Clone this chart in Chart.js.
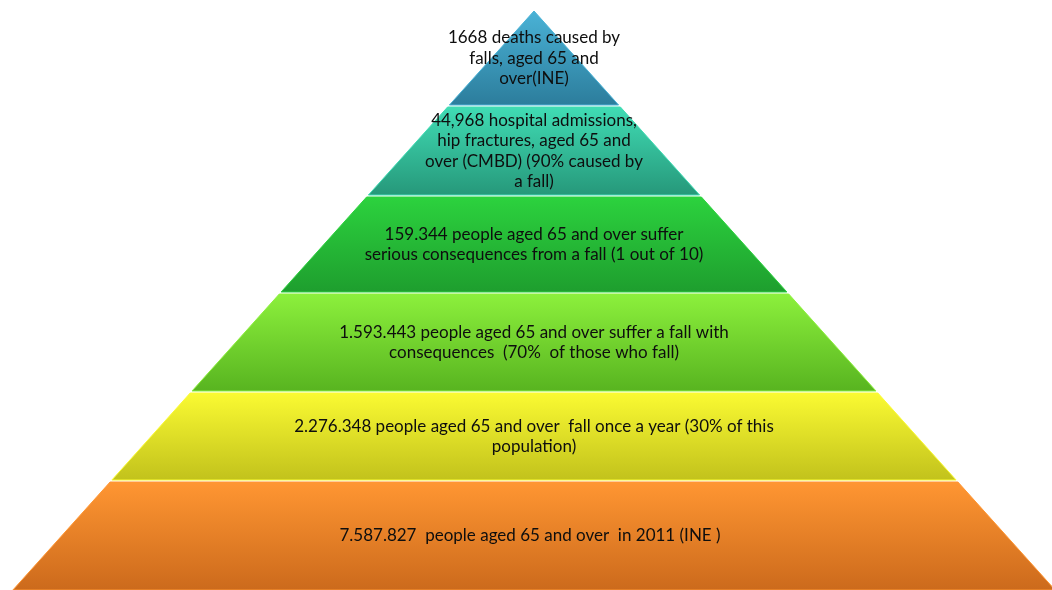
<!DOCTYPE html>
<html>
<head>
<meta charset="utf-8">
<script src="https://cdn.jsdelivr.net/npm/chart.js@4.4.0/dist/chart.umd.min.js"></script>
<style>
  html, body { margin: 0; padding: 0; background: #ffffff; }
  #wrap { width: 1052px; height: 590px; position: relative; }
</style>
</head>
<body>
<div id="wrap"><canvas id="myChartPiramide"></canvas></div>
<script>
// pyramid levels, top to bottom
var niveis = [
    ['1668 deaths caused by', 'falls, aged 65 and', 'over(INE)'],
    ['44,968 hospital admissions,', 'hip fractures, aged 65 and', 'over (CMBD) (90% caused by', 'a fall)'],
    ['159.344 people aged 65 and over suffer', 'serious consequences from a fall (1 out of 10)'],
    ['1.593.443 people aged 65 and over suffer a fall with', 'consequences  (70%  of those who fall)'],
    ['2.276.348 people aged 65 and over  fall once a year (30% of this', 'population)'],
    ['7.587.827  people aged 65 and over  in 2011 (INE )']
];
// band boundaries on the vertical axis (0 = apex)
var limites = [0, 95, 185, 282, 381, 470, 579];

var coresTopo = ['#4ab2d6', '#40dcb4', '#2cd23e', '#8cf03c', '#fafa32', '#ff9632'];
var coresBase = ['#2c7d9c', '#26987a', '#1e9e2e', '#58b420', '#c2c21c', '#cc6a1c'];
var coresBrilho = ['rgba(0,0,0,0)', '#a0ffe6', '#8aff96', '#d0ff98', '#ffffb8', '#ffe0a0'];

var inclinacao = 0.9;
function meiaLargura(v) { return v * inclinacao; }

function gradiente(topo, base, c1, c2) {
    return function (context) {
        var chart = context.chart;
        if (!chart.chartArea) return c1;
        var y = chart.scales.y;
        var g = chart.ctx.createLinearGradient(0, y.getPixelForValue(topo), 0, y.getPixelForValue(base));
        g.addColorStop(0, c1);
        g.addColorStop(1, c2);
        return g;
    };
}

var conjuntos = [];
for (var i = 0; i < niveis.length; i++) {
    var topo = limites[i] + (i > 0 ? 1 : 0);
    var base = limites[i + 1] - (i < niveis.length - 1 ? 1 : 0);
    conjuntos.push({
        label: 'nivel' + i,
        data: [
            { x: -meiaLargura(topo), y: topo },
            { x: meiaLargura(topo), y: topo },
            { x: meiaLargura(base), y: base },
            { x: -meiaLargura(base), y: base },
            { x: -meiaLargura(topo), y: topo }
        ],
        fill: 'shape',
        backgroundColor: gradiente(topo, base, coresTopo[i], coresBase[i]),
        borderColor: coresTopo[i],
        borderWidth: 1,
        pointRadius: 0,
        tension: 0
    });
    if (i > 0) {
        var t1 = topo + 1, t2 = topo + 6;
        conjuntos.push({
            label: 'brilho' + i,
            data: [
                { x: -meiaLargura(t1) + 4, y: t1 },
                { x: meiaLargura(t1) - 4, y: t1 },
                { x: meiaLargura(t2) - 5, y: t2 },
                { x: -meiaLargura(t2) + 5, y: t2 },
                { x: -meiaLargura(t1) + 4, y: t1 }
            ],
            fill: 'shape',
            backgroundColor: gradiente(t1, t2, coresTopo[i], coresBrilho[i]),
            borderWidth: 0,
            borderColor: 'rgba(0,0,0,0)',
            pointRadius: 0,
            tension: 0
        });
    }
}

var textos = {
    id: 'textos',
    afterDatasetsDraw: function (chart) {
        var c = chart.ctx;
        var x = chart.scales.x, y = chart.scales.y;
        c.save();
        c.fillStyle = '#0e0e0e';
        c.font = '17px Lato';
        c.textAlign = 'center';
        c.textBaseline = 'middle';
        for (var i = 0; i < niveis.length; i++) {
            var meio = (limites[i] + limites[i + 1]) / 2;
            var linhas = niveis[i];
            var py = y.getPixelForValue(meio) - (linhas.length - 1) * 20.5 / 2;
            for (var j = 0; j < linhas.length; j++) {
                c.fillText(linhas[j], x.getPixelForValue(i == 5 ? -4 : 0), py + j * 20.5);
            }
        }
        c.restore();
    }
};

var myChartPiramide = new Chart(document.getElementById('myChartPiramide'), {
    type: 'line',
    data: { datasets: conjuntos },
    plugins: [textos],
    options: {
        responsive: true,
        maintainAspectRatio: false,
        animation: false,
        layout: { padding: 0 },
        scales: {
            x: { type: 'linear', min: -534, max: 518, display: false },
            y: { type: 'linear', min: -11, max: 579, reverse: true, display: false }
        },
        plugins: {
            legend: { display: false },
            tooltip: { enabled: false }
        }
    }
});
</script>
</body>
</html>
